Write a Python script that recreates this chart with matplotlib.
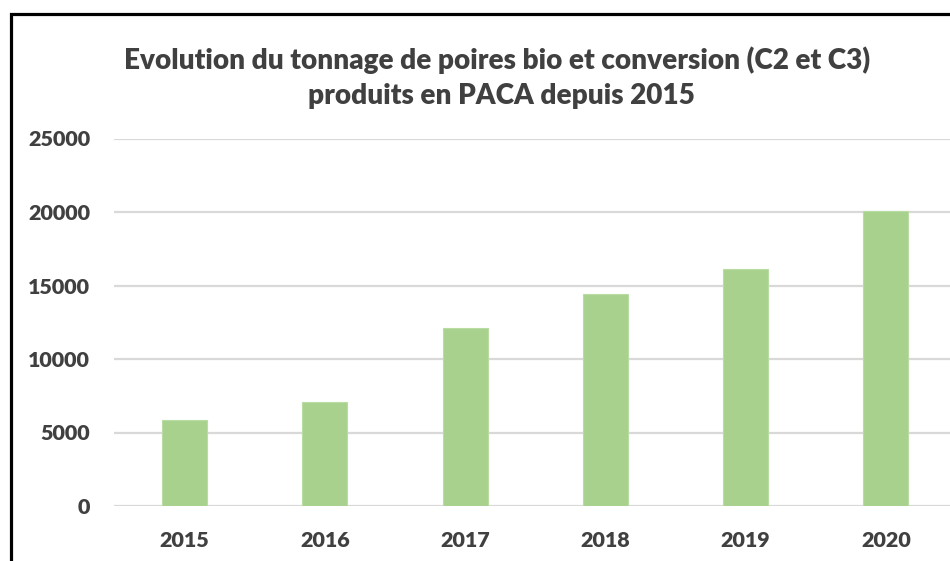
import matplotlib
matplotlib.use("Agg")
import matplotlib.pyplot as plt
from matplotlib.patches import Rectangle

years = ["2015", "2016", "2017", "2018", "2019", "2020"]
tonnage = [5870, 7090, 12100, 14420, 16150, 20050]
yticks = [0, 5000, 10000, 15000, 20000, 25000]
title_l1 = "Evolution du tonnage de poires bio et conversion (C2 et C3)"
title_l2 = "produits en PACA depuis 2015"

W, H = 950, 561
FONT = "Lato"
WEIGHT = "heavy"
TXT = "#404040"

fig = plt.figure(figsize=(W / 100, H / 100), dpi=100)
fig.patch.set_facecolor("white")

def px(x, y):
    return x / W, 1 - y / H

ax_left, ax_right = 114.4, 956.0
ax_top, ax_bot = 138.5, 506.0
ax = fig.add_axes([ax_left / W, 1 - ax_bot / H, (ax_right - ax_left) / W, (ax_bot - ax_top) / H])

x = list(range(len(years)))
ax.bar(x, tonnage, width=0.32, color="#a9d18e", edgecolor="#b9dca2", linewidth=0.8, zorder=3)
ax.set_xlim(-0.5, len(years) - 0.5)
ax.set_ylim(0, 25000)
ax.set_yticks(yticks)
ax.set_yticklabels([str(v) for v in yticks])
ax.set_xticks(x)
ax.set_xticklabels(years)
for s in ax.spines.values():
    s.set_visible(False)
ax.grid(axis="y", color="#d9d9d9", linewidth=1.6, zorder=0)
ax.set_axisbelow(True)
ax.tick_params(axis="both", length=0, labelcolor=TXT)
ax.tick_params(axis="y", pad=17.5)
ax.tick_params(axis="x", pad=18)
for lab in ax.get_yticklabels() + ax.get_xticklabels():
    lab.set_fontfamily(FONT)
    lab.set_fontweight(WEIGHT)
    lab.set_fontsize(15.5)

t1 = fig.text(*px(497, 60), title_l1, ha="center", va="center", fontsize=19,
              fontweight=WEIGHT, color=TXT, family=FONT)
t2 = fig.text(*px(501, 96), title_l2, ha="center", va="center", fontsize=19,
              fontweight=WEIGHT, color=TXT, family=FONT)

# fit title widths to the reference
fig.canvas.draw()
r = fig.canvas.get_renderer()
w1 = t1.get_window_extent(r).width
t1.set_fontsize(19 * 741 / w1)
t2.set_fontsize(19 * 741 / w1)
# fit tick label width: "25000" ~ 62 px
lab = ax.get_yticklabels()[-1]
wl = lab.get_window_extent(r).width
fs = 15.5 * 62 / wl
for l in ax.get_yticklabels() + ax.get_xticklabels():
    l.set_fontsize(fs)

# chart border (cropped at right and bottom)
fig.patches.append(Rectangle((10.5 / W, -0.1), 1.2, 1.1 - 13.5 / H, transform=fig.transFigure,
                             fill=False, edgecolor="black", linewidth=2.3, zorder=10))

fig.savefig("out.png", dpi=100, facecolor="white")
